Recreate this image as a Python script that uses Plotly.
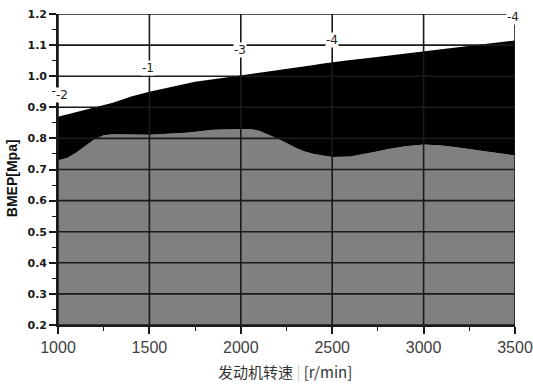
import plotly.graph_objects as go
import numpy as np

# engine speed [r/min]
speed_upper = [1000, 1100, 1200, 1300, 1400, 1500, 1750, 2000, 2250, 2500, 2750, 3000, 3250, 3500]
bmep_upper = [0.87, 0.885, 0.90, 0.915, 0.935, 0.95, 0.982, 1.002, 1.023, 1.045, 1.062, 1.08, 1.098, 1.115]

speed_lower = [1000, 1050, 1100, 1150, 1200, 1250, 1300, 1500, 1700, 1850, 2000, 2050, 2100, 2150, 2200,
               2250, 2300, 2350, 2400, 2450, 2500, 2600, 2700, 2800, 2900, 3000, 3100, 3200, 3300, 3400, 3500]
bmep_lower = [0.73, 0.737, 0.755, 0.775, 0.797, 0.81, 0.813, 0.812, 0.818, 0.828, 0.83, 0.83, 0.825, 0.813, 0.80,
              0.785, 0.77, 0.758, 0.75, 0.745, 0.74, 0.742, 0.752, 0.765, 0.775, 0.78, 0.777, 0.77, 0.762, 0.755, 0.745]

x_ticks = [1000, 1500, 2000, 2500, 3000, 3500]
y_ticks = [0.2, 0.3, 0.4, 0.5, 0.6, 0.7, 0.8, 0.9, 1.0, 1.1, 1.2]
y_tick_text = ["0.2", "0.3", "0.4", "0.5", "0.6", "0.7", "0.8", "0.9", "1.0", "1.1", "1.2"]

label_text = ["-2", "-1", "-3", "-4", "-4"]
label_x = [1020, 1492, 1995, 2500, 3488]
label_y = [0.94, 1.026, 1.085, 1.117, 1.19]

grid = sorted(set(speed_upper) | set(speed_lower))
up_i = list(np.interp(grid, speed_upper, bmep_upper))
lo_i = list(np.interp(grid, speed_lower, bmep_lower))

fig = go.Figure()
fig.add_trace(go.Scatter(x=grid, y=lo_i, mode="lines", line=dict(color="#808080", width=0),
                         fill="tozeroy", fillcolor="#808080", hoverinfo="skip", showlegend=False))
fig.add_trace(go.Scatter(x=grid, y=up_i, mode="lines", line=dict(color="#000000", width=0),
                         fill="tonexty", fillcolor="#000000", hoverinfo="skip", showlegend=False))

shapes = []
for xv in x_ticks:
    shapes.append(dict(type="line", xref="x", yref="y", x0=xv, x1=xv, y0=y_ticks[0], y1=y_ticks[-1],
                       line=dict(color="#1a1a1a", width=1.6), layer="above"))
for yv in y_ticks:
    shapes.append(dict(type="line", xref="x", yref="y", x0=x_ticks[0], x1=x_ticks[-1], y0=yv, y1=yv,
                       line=dict(color="#1a1a1a", width=1.6), layer="above"))

annotations = []
for t, xv, yv in zip(label_text, label_x, label_y):
    annotations.append(dict(x=xv, y=yv, xref="x", yref="y", text=t, showarrow=False,
                            bgcolor="white", borderpad=0,
                            font=dict(family="DejaVu Sans", size=12, color="#222222")))
annotations.append(dict(x=-0.1, y=0.473, xref="paper", yref="paper", text="<b>BMEP[Mpa]</b>",
                        textangle=-90, showarrow=False, xanchor="center", yanchor="middle",
                        font=dict(family="Liberation Sans", size=14, color="#111111")))
annotations.append(dict(x=0.497, y=-0.151, xref="paper", yref="paper",
                        text="发动机转速 <span style='color:#cccccc'>|</span> [r/min]", showarrow=False,
                        xanchor="center", yanchor="middle",
                        font=dict(family="Noto Sans CJK SC", size=15, color="#333333")))

fig.update_layout(
    width=533, height=387, autosize=False,
    margin=dict(l=58, r=18, t=14, b=62, autoexpand=False),
    paper_bgcolor="white", plot_bgcolor="white",
    shapes=shapes, annotations=annotations,
    xaxis=dict(range=[1000, 3500], tickvals=x_ticks, ticks="outside", ticklen=7, tickwidth=1.5,
               tickcolor="#1a1a1a", showgrid=False, zeroline=False, automargin=False,
               showline=True, linecolor="#1a1a1a", linewidth=1.6,
               tickfont=dict(family="Liberation Sans", size=16, color="#404040"),
               minor=dict(dtick=250, tick0=1000, ticks="outside", ticklen=4, tickcolor="#1a1a1a",
                          tickwidth=1.2, showgrid=False)),
    yaxis=dict(range=[0.2, 1.2], tickvals=y_ticks, ticktext=["<b>" + s + "</b>" for s in y_tick_text],
               ticks="outside", ticklen=7, tickwidth=1.5, tickcolor="#1a1a1a", automargin=False,
               showgrid=False, zeroline=False, showline=True, linecolor="#1a1a1a", linewidth=1.6,
               tickfont=dict(family="DejaVu Sans", size=11, color="#1a1a1a"),
               minor=dict(dtick=0.05, tick0=0.2, ticks="outside", ticklen=4, tickcolor="#1a1a1a",
                          tickwidth=1.2, showgrid=False)),
)

fig.write_html("out.html", config={"displayModeBar": False},
               post_script="document.body.style.margin='0';document.body.style.overflow='hidden';")
